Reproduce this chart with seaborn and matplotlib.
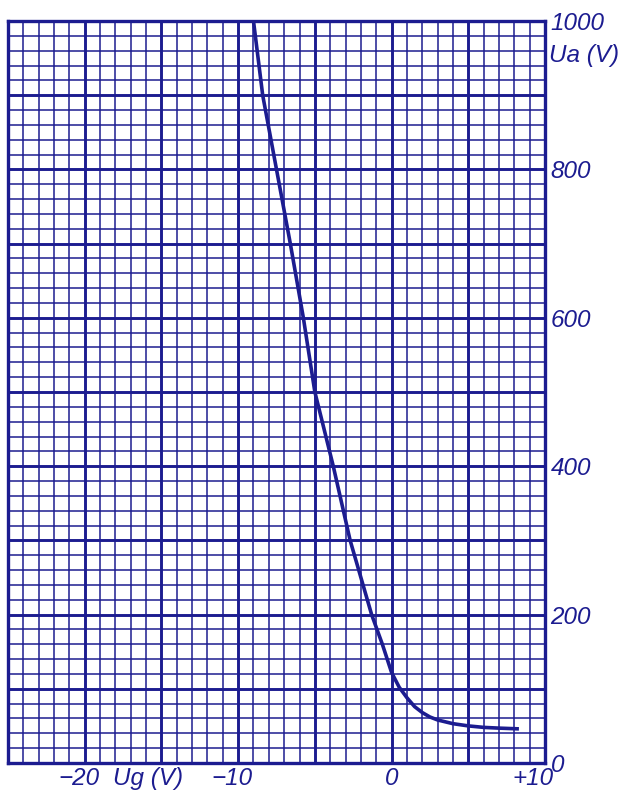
import numpy as np
import pandas as pd
import matplotlib
matplotlib.use("Agg")
import matplotlib.pyplot as plt
import matplotlib.transforms as mtransforms
import seaborn as sns

# Anode voltage versus grid voltage characteristic
ug_volts = [-9.0, -8.4, -7.5, -6.6, -5.75, -5.0, -3.8, -2.7, -1.3,
            -0.6, 0.0, 0.5, 1.0, 1.5, 2.0, 2.5, 3.0, 4.0, 5.0, 6.0, 7.0, 8.3]
ua_volts = [1000, 900, 800, 700, 600, 500, 400, 300, 200,
            160, 122, 102, 88, 76, 68, 62, 58, 53, 50, 48, 47, 46]

x_range = (-25, 10)
y_range = (0, 1000)
x_major_step, x_minor_step = 5, 1
y_major_step, y_minor_step = 100, 20
x_labels = {-20: "\u221220", -10: "\u221210", 0: "0", 10: "+10"}
y_labels = {0: "0", 200: "200", 400: "400", 600: "600", 800: "800", 1000: "1000"}

ink = "#1c1c90"
font = ["Liberation Sans Narrow", "Liberation Sans", "DejaVu Sans"]
text_size = 17.5

sns.set_theme(style="white")
plt.rcParams["font.family"] = font

fig = plt.figure(figsize=(6.25, 7.92), dpi=100)
ax = fig.add_axes([8 / 625, 1 - 763 / 792, 537 / 625, 742 / 792])

df = pd.DataFrame({"Ug": ug_volts, "Ua": ua_volts})
sns.lineplot(data=df, x="Ug", y="Ua", ax=ax, color=ink, lw=2.6,
             sort=False, zorder=5, solid_capstyle="butt")

ax.set_xlim(*x_range)
ax.set_ylim(*y_range)

x_major = np.arange(x_range[0], x_range[1] + 1, x_major_step)
x_minor = np.arange(x_range[0], x_range[1] + 1, x_minor_step)
y_major = np.arange(y_range[0], y_range[1] + 1, y_major_step)
y_minor = np.arange(y_range[0], y_range[1] + 1, y_minor_step)

ax.set_xticks(x_major)
ax.set_xticks(x_minor, minor=True)
ax.set_yticks(y_major)
ax.set_yticks(y_minor, minor=True)
ax.set_xticklabels([x_labels.get(int(v), "") for v in x_major])
ax.set_yticklabels([y_labels.get(int(v), "") for v in y_major])

ax.grid(which="major", color=ink, lw=2.1)
ax.grid(which="minor", color=ink, lw=1.1)
ax.set_axisbelow(True)

ax.yaxis.tick_right()
ax.tick_params(which="both", length=0)
ax.tick_params(axis="x", pad=3)
ax.tick_params(axis="y", pad=4)
for lab in ax.get_xticklabels() + ax.get_yticklabels():
    lab.set_fontstyle("italic")
    lab.set_fontsize(text_size)
    lab.set_color(ink)
    lab.set_family(font)

# x labels sit a little left of their grid lines, the last one most of all
x_shift_px = {-20: -6, -10: -6, 0: 0, 10: -12}
for val, lab in zip(x_major, ax.get_xticklabels()):
    dx = x_shift_px.get(int(val), 0) / 100
    lab.set_transform(lab.get_transform() +
                      mtransforms.ScaledTranslation(dx, 0, fig.dpi_scale_trans))

for side in ax.spines.values():
    side.set_visible(True)
    side.set_color(ink)
    side.set_linewidth(2.4)

ax.set_xlabel("")
ax.set_ylabel("")

ax.annotate("Ug (V)", xy=(-15.9, 0), xycoords=("data", "axes fraction"),
            xytext=(0, -3), textcoords="offset points", ha="center", va="top",
            fontsize=text_size, fontstyle="italic", color=ink, family=font,
            annotation_clip=False)
ax.text(1.008, 0.953, "Ua (V)", transform=ax.transAxes, ha="left", va="center",
        fontsize=text_size, fontstyle="italic", color=ink, family=font, clip_on=False)

fig.savefig("out.png", dpi=100, facecolor="white")
